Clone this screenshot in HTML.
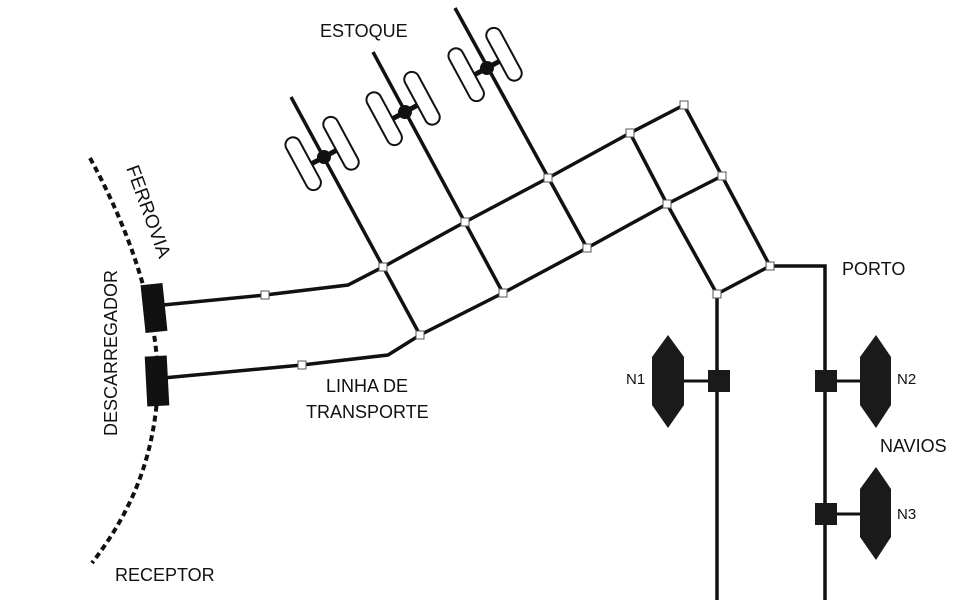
<!DOCTYPE html>
<html><head><meta charset="utf-8"><style>
html,body{margin:0;padding:0;background:#fff}
svg{display:block}
text{font-family:"Liberation Sans",sans-serif;fill:#111}
</style></head><body>
<svg width="960" height="609" viewBox="0 0 960 609">
<rect width="960" height="609" fill="#fff"/>
<path d="M90,158 C135,240 163,330 157,400 C151,470 125,520 92,563" fill="none" stroke="#111" stroke-width="4" stroke-dasharray="6,4"/>
<g stroke="#111" stroke-width="3.5" fill="none" stroke-linejoin="miter">
<polyline points="163,305 265,295 348,285 383,267 465,222 548,178 630,133 684,105"/>
<polyline points="163,378 302,365 388,355 420,335 503,293 587,248 667,204 722,176"/>
<line x1="291" y1="97" x2="420" y2="335"/>
<line x1="373" y1="52" x2="503" y2="293"/>
<line x1="455" y1="8" x2="587" y2="248"/>
<polyline points="630,133 667,204 717,294"/>
<polyline points="684,105 722,176 770,266"/>
<polyline points="717,600 717,294 770,266 825,266 825,600"/>
</g>
<g fill="#fff" stroke="#555" stroke-width="1">
<rect x="261" y="291" width="8" height="8"/><rect x="298" y="361" width="8" height="8"/>
<rect x="379" y="263" width="8" height="8"/><rect x="461" y="218" width="8" height="8"/>
<rect x="544" y="174" width="8" height="8"/><rect x="626" y="129" width="8" height="8"/>
<rect x="680" y="101" width="8" height="8"/><rect x="416" y="331" width="8" height="8"/>
<rect x="499" y="289" width="8" height="8"/><rect x="583" y="244" width="8" height="8"/>
<rect x="663" y="200" width="8" height="8"/><rect x="718" y="172" width="8" height="8"/>
<rect x="713" y="290" width="8" height="8"/><rect x="766" y="262" width="8" height="8"/>
</g>
<g transform="translate(324,157) rotate(-28.4)">
<rect x="-29" y="-33" width="15" height="58" rx="7.5" fill="#fff" stroke="#111" stroke-width="2"/>
<rect x="14" y="-33" width="15" height="58" rx="7.5" fill="#fff" stroke="#111" stroke-width="2"/>
<rect x="-14" y="-2.5" width="28" height="5" fill="#111"/>
<circle cx="0" cy="0" r="7" fill="#111"/>
</g>
<g transform="translate(405,112) rotate(-28.4)">
<rect x="-29" y="-33" width="15" height="58" rx="7.5" fill="#fff" stroke="#111" stroke-width="2"/>
<rect x="14" y="-33" width="15" height="58" rx="7.5" fill="#fff" stroke="#111" stroke-width="2"/>
<rect x="-14" y="-2.5" width="28" height="5" fill="#111"/>
<circle cx="0" cy="0" r="7" fill="#111"/>
</g>
<g transform="translate(487,68) rotate(-28.4)">
<rect x="-29" y="-33" width="15" height="58" rx="7.5" fill="#fff" stroke="#111" stroke-width="2"/>
<rect x="14" y="-33" width="15" height="58" rx="7.5" fill="#fff" stroke="#111" stroke-width="2"/>
<rect x="-14" y="-2.5" width="28" height="5" fill="#111"/>
<circle cx="0" cy="0" r="7" fill="#111"/>
</g>
<rect x="143" y="284" width="22" height="48" fill="#111" transform="rotate(-6 154 308)"/>
<rect x="146" y="356" width="22" height="50" fill="#111" transform="rotate(-3 157 381)"/>
<g fill="#1a1a1a" stroke="#111" stroke-width="3">
<line x1="684" y1="381" x2="718" y2="381"/>
<line x1="825" y1="381" x2="860" y2="381"/>
<line x1="825" y1="514" x2="860" y2="514"/>
</g>
<g fill="#1a1a1a">
<polygon points="668,335 684,357 684,405 668,428 652,405 652,357"/>
<polygon points="876,335 891,357 891,405 876,428 860,405 860,357"/>
<polygon points="876,467 891,489 891,537 876,560 860,537 860,489"/>
<rect x="708" y="370" width="22" height="22"/>
<rect x="815" y="370" width="22" height="22"/>
<rect x="815" y="503" width="22" height="22"/>
</g>
<text x="320" y="37" font-size="18">ESTOQUE</text>
<text x="0" y="0" font-size="19" transform="translate(126,168) rotate(70)">FERROVIA</text>
<text x="0" y="0" font-size="18" transform="translate(117,436) rotate(-90)">DESCARREGADOR</text>
<text x="115" y="581" font-size="18">RECEPTOR</text>
<text x="326" y="392" font-size="18">LINHA DE</text>
<text x="306" y="418" font-size="18">TRANSPORTE</text>
<text x="842" y="275" font-size="18">PORTO</text>
<text x="880" y="452" font-size="18">NAVIOS</text>
<text x="626" y="384" font-size="15">N1</text>
<text x="897" y="384" font-size="15">N2</text>
<text x="897" y="519" font-size="15">N3</text>
</svg>
</body></html>
